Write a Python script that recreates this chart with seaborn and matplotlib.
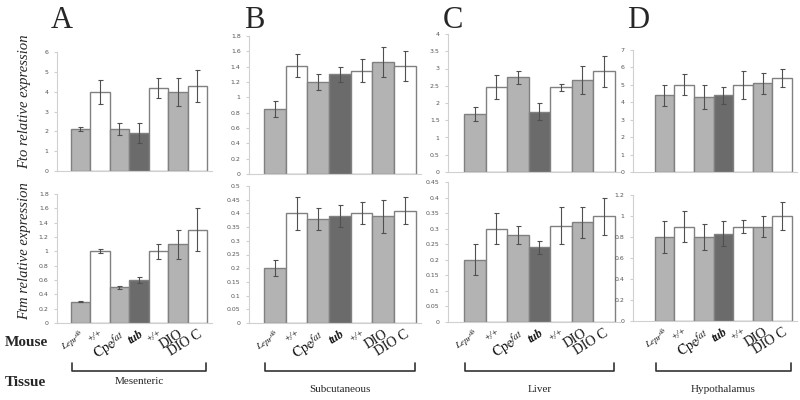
import numpy as np
import matplotlib
matplotlib.use('Agg')
import matplotlib.pyplot as plt
import matplotlib.transforms as mtransforms
import seaborn as sns

# mouse strains (unique ids) and how they are printed under the bars
mice = ['Lepr_db', 'wt_1', 'Cpe_fat', 'tub', 'wt_2', 'DIO', 'DIO_C']
mouse_labels = [r'$\mathit{Lepr}^{db}$', '+/+', r'$\mathrm{Cpe}^{fat}$', 'tub', '+/+', 'DIO', 'DIO C']
tissues = ['Mesenteric', 'Subcutaneous', 'Liver', 'Hypothalamus']
panel_letters = ['A', 'B', 'C', 'D']

# Fto relative expression (mean, error)
fto_mes = [2.1, 4.0, 2.1, 1.9, 4.2, 4.0, 4.3]
fto_mes_err = [0.1, 0.6, 0.3, 0.5, 0.5, 0.7, 0.8]
fto_sub = [0.85, 1.41, 1.2, 1.3, 1.35, 1.46, 1.41]
fto_sub_err = [0.1, 0.15, 0.1, 0.1, 0.15, 0.2, 0.2]
fto_liv = [1.68, 2.46, 2.74, 1.75, 2.46, 2.67, 2.92]
fto_liv_err = [0.2, 0.35, 0.2, 0.25, 0.1, 0.4, 0.45]
fto_hyp = [4.4, 5.0, 4.3, 4.4, 5.0, 5.1, 5.4]
fto_hyp_err = [0.6, 0.6, 0.7, 0.5, 0.8, 0.6, 0.5]

# Ftm relative expression (mean, error)
ftm_mes = [0.3, 1.0, 0.5, 0.6, 1.0, 1.1, 1.3]
ftm_mes_err = [0.01, 0.03, 0.02, 0.04, 0.1, 0.2, 0.3]
ftm_sub = [0.2, 0.4, 0.38, 0.39, 0.4, 0.39, 0.41]
ftm_sub_err = [0.03, 0.06, 0.04, 0.04, 0.04, 0.06, 0.05]
ftm_liv = [0.2, 0.3, 0.28, 0.24, 0.31, 0.32, 0.34]
ftm_liv_err = [0.05, 0.05, 0.03, 0.02, 0.06, 0.05, 0.06]
ftm_hyp = [0.8, 0.9, 0.8, 0.83, 0.9, 0.9, 1.0]
ftm_hyp_err = [0.15, 0.15, 0.12, 0.12, 0.06, 0.1, 0.13]

fto_data = [(fto_mes, fto_mes_err), (fto_sub, fto_sub_err), (fto_liv, fto_liv_err), (fto_hyp, fto_hyp_err)]
ftm_data = [(ftm_mes, ftm_mes_err), (ftm_sub, ftm_sub_err), (ftm_liv, ftm_liv_err), (ftm_hyp, ftm_hyp_err)]

fto_ylim = [(6, 1), (1.8, 0.2), (4, 0.5), (7, 1)]
ftm_ylim = [(1.8, 0.2), (0.5, 0.05), (0.45, 0.05), (1.2, 0.2)]

bar_colors = ['#b3b3b3', '#ffffff', '#b3b3b3', '#6b6b6b', '#ffffff', '#b3b3b3', '#ffffff']
palette = dict(zip(mice, bar_colors))

sns.set_style('white')
plt.rcParams['font.family'] = ['Liberation Serif', 'DejaVu Serif']
plt.rcParams['mathtext.fontset'] = 'stix'

fig = plt.figure(figsize=(8, 4), dpi=100)

W, H = 800.0, 400.0
# pixel boxes: (left, right, top y, bottom y)
top_boxes = [(57, 212, 52, 171), (249, 421, 36, 174), (448, 620, 34, 172), (633, 797, 50, 172)]
bot_boxes = [(57, 212, 194, 323), (249, 421, 186, 323), (448, 620, 182, 322), (633, 797, 195, 321)]
xlims = [(-1.2, 6.75), (-1.2, 6.75), (-1.25, 6.75), (-1.6, 6.75)]

label_style = [
    dict(fontsize=6.5, style='italic'),
    dict(fontsize=7, style='italic'),
    dict(fontsize=10),
    dict(fontsize=8.5, style='italic', weight='bold'),
    dict(fontsize=7, style='italic'),
    dict(fontsize=10),
    dict(fontsize=10),
]


def make_axes(box):
    l, r, t, b = box
    return fig.add_axes([l / W, 1 - b / H, (r - l) / W, (b - t) / H])


def draw_panel(ax, vals, errs, ylim, xlim, show_labels):
    sns.barplot(x=mice, y=vals, hue=mice, palette=palette, legend=False,
                width=1.0, edgecolor='#808080', linewidth=1.0, errorbar=None, ax=ax)
    ax.errorbar(np.arange(len(vals)), vals, yerr=errs, fmt='none',
                ecolor='#505050', elinewidth=0.8, capsize=1.8, capthick=0.8)
    top, step = ylim
    ax.set_ylim(0, top)
    ax.set_yticks(np.arange(0, top + step / 2, step))
    ax.yaxis.set_major_formatter(plt.FuncFormatter(lambda v, p: f'{v:g}'))
    ax.set_xlim(*xlim)
    ax.set_xlabel('')
    ax.set_ylabel('')
    for s in ['top', 'right']:
        ax.spines[s].set_visible(False)
    for s in ['left', 'bottom']:
        ax.spines[s].set_color('#d0d0d0')
        ax.spines[s].set_linewidth(0.8)
    ax.tick_params(axis='y', labelsize=4.5, labelcolor='#555555', length=2,
                   color='#d0d0d0', pad=4, left=True)
    for lab in ax.get_yticklabels():
        lab.set_family('DejaVu Sans')
    ax.tick_params(axis='x', length=0)
    if show_labels:
        ax.set_xticks(np.arange(len(mice)))
        ax.set_xticklabels(mouse_labels, rotation=32, ha='right', rotation_mode='anchor')
        for lab, st in zip(ax.get_xticklabels(), label_style):
            lab.set(**st)
            lab.set_color('#111111')
    else:
        ax.set_xticklabels([])


for i in range(4):
    ax_t = make_axes(top_boxes[i])
    draw_panel(ax_t, fto_data[i][0], fto_data[i][1], fto_ylim[i], xlims[i], False)
    ax_b = make_axes(bot_boxes[i])
    draw_panel(ax_b, ftm_data[i][0], ftm_data[i][1], ftm_ylim[i], xlims[i], True)

    # panel letter
    fig.text((top_boxes[i][0] + 5) / W, 1 - 20 / H, panel_letters[i],
             fontsize=22, ha='center', va='center')

    # tissue bracket under the bars
    trans = mtransforms.blended_transform_factory(ax_b.transData, fig.transFigure)
    yb = 1 - 371 / H
    yt = 1 - 363 / H
    ax_b.plot([-0.45, -0.45, 6.45, 6.45], [yt, yb, yb, yt], transform=trans,
              color='#333333', lw=1.2, clip_on=False)
    ty = 381 if i == 0 else 389
    ax_b.text(3, 1 - ty / H, tissues[i], transform=trans, ha='center', va='center',
              fontsize=8)

    if i == 0:
        ax_t.set_ylabel('Fto relative expression', fontsize=10.5, style='italic')
        ax_t.yaxis.set_label_coords(-0.17, 0.58)
        ax_b.set_ylabel('Ftm relative expression', fontsize=10.5, style='italic')
        ax_b.yaxis.set_label_coords(-0.17, 0.56)

fig.text(5 / W, 1 - 343 / H, 'Mouse', fontsize=11, weight='bold', va='center')
fig.text(5 / W, 1 - 382 / H, 'Tissue', fontsize=11, weight='bold', va='center')

fig.savefig('out.png', dpi=100)
